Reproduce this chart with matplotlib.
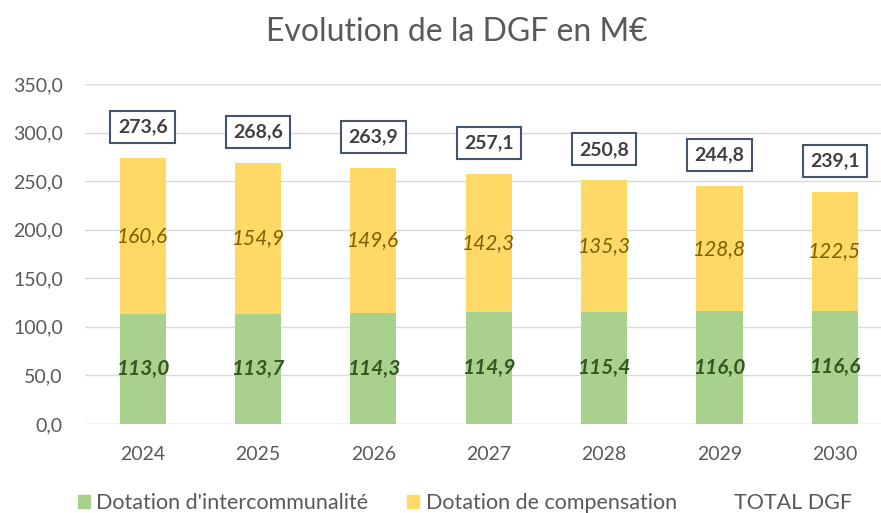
import matplotlib
matplotlib.use("Agg")
import matplotlib.pyplot as plt
from matplotlib.patches import Patch

years = ["2024", "2025", "2026", "2027", "2028", "2029", "2030"]
interco = [113.0, 113.7, 114.3, 114.9, 115.4, 116.0, 116.6]
compens = [160.6, 154.9, 149.6, 142.3, 135.3, 128.8, 122.5]
totals = [273.6, 268.6, 263.9, 257.1, 250.8, 244.8, 239.1]
yticks = [0, 50, 100, 150, 200, 250, 300, 350]

plt.rcParams['font.family'] = ['Lato', 'DejaVu Sans']

def fr(v):
    return f"{v:.1f}".replace(".", ",")

fig = plt.figure(figsize=(8.81, 5.13), dpi=100)
ax = fig.add_axes([85/881, 1 - 424/513, 796/881, (424 - 84)/513])

x = list(range(len(years)))
green = "#A9D18E"
yellow = "#FFD966"
w = 0.4
ax.bar(x, interco, width=w, color=green, zorder=2)
ax.bar(x, compens, width=w, bottom=interco, color=yellow, zorder=2)

for i in x:
    ax.text(i, interco[i] / 2, fr(interco[i]), ha="center", va="center",
            fontsize=15, fontstyle="italic", fontweight="bold", color="#375623", zorder=3)
    ax.text(i, interco[i] + compens[i] / 2, fr(compens[i]), ha="center", va="center",
            fontsize=15, fontstyle="italic", color="#7F6000", zorder=3)
    ax.annotate(fr(totals[i]), xy=(i, totals[i]), xytext=(0, 31), textcoords="offset pixels",
                ha="center", va="center", fontsize=14, fontweight="bold", color="#404040",
                bbox=dict(boxstyle="square,pad=0.38", fc="white", ec="#44546A", lw=1.5), zorder=4)

ax.set_xlim(-0.5, 6.4)
ax.set_ylim(0, 350)
ax.set_yticks(yticks)
ax.set_yticklabels([fr(v) for v in yticks], fontsize=14, color="#595959")
ax.set_xticks(x)
ax.set_xticklabels(years, fontsize=14, color="#595959")
ax.tick_params(axis="both", length=0)
ax.tick_params(axis="y", pad=16)
ax.tick_params(axis="x", pad=16)
ax.grid(axis="y", color="#D9D9D9", lw=1, zorder=0)
for s in ax.spines.values():
    s.set_visible(False)
ax.axhline(0, color="#D9D9D9", lw=1, zorder=1)

fig.text(457/881, 1 - 32/513, "Evolution de la DGF en M€", ha="center", va="center",
         fontsize=23, color="#595959")

handles = [Patch(color=green), Patch(color=yellow), Patch(color="none")]
labels = ["Dotation d'intercommunalité", "Dotation de compensation", "TOTAL DGF"]
fig.legend(handles, labels, loc="center", bbox_to_anchor=(465/881, 1 - 503/513), ncol=3,
           frameon=False, fontsize=15.5, labelcolor="#595959", handlelength=0.55, handleheight=0.55,
           handletextpad=0.3, columnspacing=1.8)

fig.savefig("out.png", dpi=100)
